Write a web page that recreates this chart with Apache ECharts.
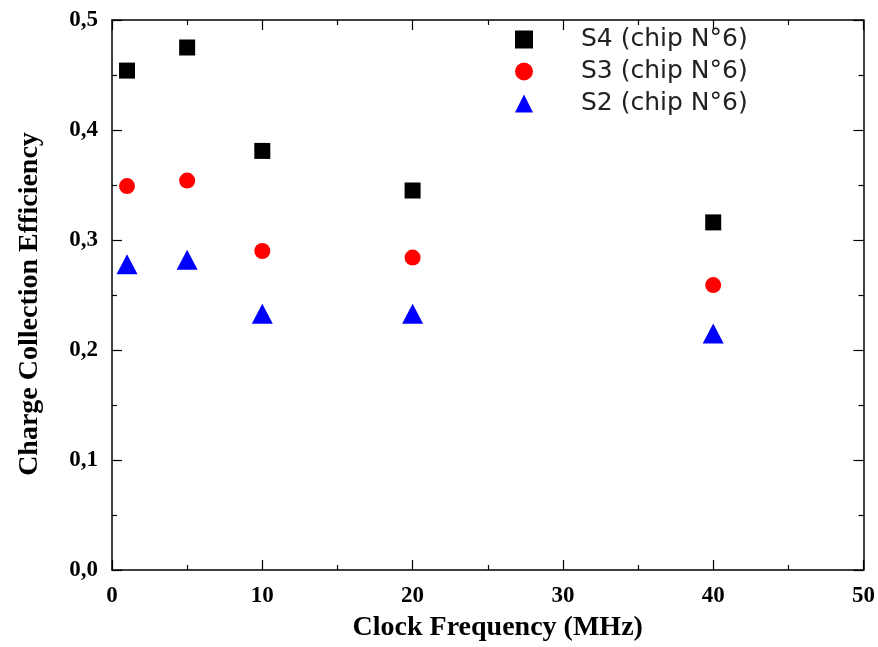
<!DOCTYPE html>
<html>
<head>
<meta charset="utf-8">
<script src="https://cdn.jsdelivr.net/npm/echarts@6/dist/echarts.min.js"></script>
<style>html,body{margin:0;padding:0;background:#fff}#c{width:878px;height:647px}</style>
</head>
<body>
<div id="c"></div>
<script>
const xValues = [1, 5, 10, 20, 40];
const s4Values = [0.454, 0.475, 0.381, 0.345, 0.316];
const s3Values = [0.349, 0.354, 0.290, 0.284, 0.259];
const s2Values = [0.278, 0.282, 0.233, 0.233, 0.215];
const seriesNames = ['S4 (chip N°6)', 'S3 (chip N°6)', 'S2 (chip N°6)'];
const xTitle = 'Clock Frequency (MHz)';
const yTitle = 'Charge Collection Efficiency';

const pairs = v => xValues.map((x, i) => [x, v[i]]);

const axisCommon = () => ({
  axisLine: { show: true, onZero: false, lineStyle: { color: '#000', width: 1.5 } },
  axisTick: { show: true, inside: true, length: 10, lineStyle: { color: '#000', width: 1.2 } },
  minorTick: { show: true, splitNumber: 2, length: 5, lineStyle: { color: '#000', width: 1.2 } },
  splitLine: { show: false },
  minorSplitLine: { show: false }
});
const labelFont = { fontFamily: 'Liberation Serif', fontWeight: 'bold', fontSize: 23, color: '#000' };
const titleFont = { fontFamily: 'Liberation Serif', fontWeight: 'bold', fontSize: 28, color: '#000' };

const chart = echarts.init(document.getElementById('c'));
chart.setOption({
  animation: false,
  backgroundColor: '#fff',
  grid: { left: 112, right: 11, top: 20, bottom: 75 },
  legend: {
    orient: 'vertical',
    left: 510,
    top: 21,
    itemWidth: 18,
    itemHeight: 18,
    itemGap: 5,
    data: [
      { name: seriesNames[0] },
      { name: seriesNames[1] },
      { name: seriesNames[2] }
    ],
    textStyle: { fontFamily: 'DejaVu Sans', fontSize: 25, lineHeight: 27, color: '#222', padding: [0, 0, 0, 43] }
  },
  xAxis: [
    Object.assign(axisCommon(), {
      type: 'value', min: 0, max: 50, interval: 10, position: 'bottom',
      name: xTitle, nameLocation: 'middle', nameGap: 44,
      nameTextStyle: Object.assign({ padding: [0, 0, 0, 20] }, titleFont),
      axisLabel: Object.assign({ margin: 15 }, labelFont)
    }),
    Object.assign(axisCommon(), {
      type: 'value', min: 0, max: 50, interval: 10, position: 'top',
      axisLabel: { show: false }
    })
  ],
  yAxis: [
    Object.assign(axisCommon(), {
      type: 'value', min: 0, max: 0.5, interval: 0.1, position: 'left',
      name: yTitle, nameLocation: 'middle', nameGap: 68,
      nameTextStyle: Object.assign({ padding: [0, 18, 0, 0] }, titleFont),
      axisLabel: Object.assign({ margin: 14, formatter: v => v.toFixed(1).replace('.', ',') }, labelFont)
    }),
    Object.assign(axisCommon(), {
      type: 'value', min: 0, max: 0.5, interval: 0.1, position: 'right',
      axisLabel: { show: false }
    })
  ],
  series: [
    { name: seriesNames[0], type: 'scatter', symbol: 'rect', symbolSize: 16, itemStyle: { color: '#000', opacity: 1 }, data: pairs(s4Values) },
    { name: seriesNames[1], type: 'scatter', symbol: 'circle', symbolSize: 16, itemStyle: { color: '#ff0000', opacity: 1 }, data: pairs(s3Values) },
    { name: seriesNames[2], type: 'scatter', symbol: 'triangle', symbolSize: [21, 20], itemStyle: { color: '#0000ff', opacity: 1 }, data: pairs(s2Values) }
  ]
});
</script>
</body>
</html>
